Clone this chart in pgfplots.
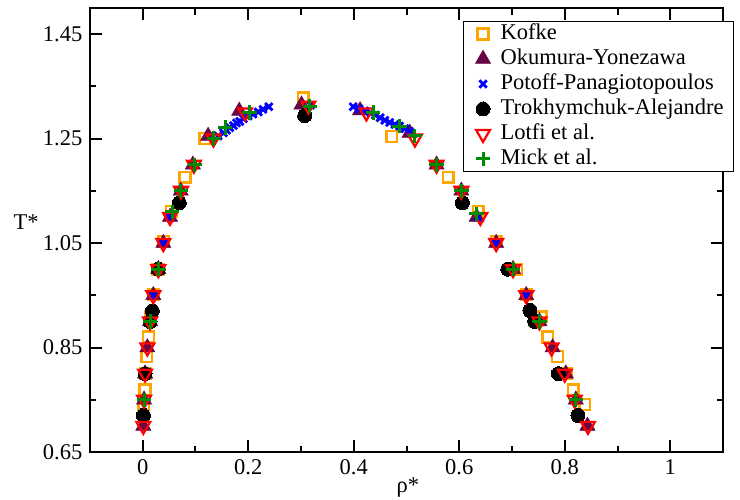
\documentclass[border=0pt]{standalone}
\usepackage{fontspec}
\setmainfont{Liberation Serif}
\usepackage{pgfplots}
\pgfplotsset{compat=1.18}
\definecolor{gorange}{RGB}{255,165,0}
\definecolor{gmaroon}{RGB}{103,7,72}
\definecolor{gblue}{RGB}{0,0,255}
\definecolor{gred}{RGB}{255,0,0}
\definecolor{ggreen}{RGB}{0,139,0}
\begin{document}
\fontsize{22.5}{27}\selectfont
\begin{tikzpicture}
\begin{axis}[
  scale only axis, width=633pt, height=444pt,
  xmin=-0.1, xmax=1.1, ymin=0.65, ymax=1.5,
  axis line style={line width=2.2pt},
  every tick/.style={black, line width=2pt},
  major tick length=12pt, minor tick length=6.5pt,
  tick align=inside,
  xtick={0,0.2,0.4,0.6,0.8,1}, minor xtick={0.1,0.3,0.5,0.7,0.9},
  ytick={0.65,0.85,1.05,1.25,1.45}, minor ytick={0.75,0.95,1.15,1.35},
  /pgf/number format/assume math mode=true,
  xlabel={ρ*}, ylabel={T*},
  every axis x label/.style={at={(axis description cs:0.502,-0.081)},anchor=center},
  every axis y label/.style={at={(axis description cs:-0.101,0.518)},anchor=center},
  legend cell align=left,
  legend style={at={(axis description cs:0.589,0.971)}, anchor=north west,
    draw=black, line width=1.2pt, fill=white, inner xsep=6pt, inner ysep=0pt,
    row sep=0pt, nodes={inner ysep=2pt, inner xsep=4pt, text height=16pt, text depth=5pt}},
  legend image code/.code={\path (0pt,0pt) (26pt,0pt); \draw[#1] plot coordinates {(13pt,0pt)};},
  clip=false,
]
\addplot[only marks, color=gorange, mark=square, mark size=5.4pt, mark options={solid, line width=2.4pt, line join=miter, fill=none}] coordinates {
(0.002,0.741)(0.0044,0.769)(0.0056,0.800)(0.0076,0.833)(0.0106,0.870)(0.0145,0.909)(0.020,0.952)(0.029,1.000)(0.040,1.053)(0.054,1.111)(0.080,1.176)(0.118,1.250)(0.304,1.328)(0.472,1.254)(0.579,1.176)(0.636,1.111)(0.670,1.053)(0.709,1.000)(0.727,0.952)(0.755,0.909)(0.768,0.870)(0.786,0.833)(0.803,0.800)(0.816,0.769)(0.838,0.741)};
\addlegendentry{Kofke}
\addplot[only marks, color=gmaroon, mark=triangle*, mark size=8.8pt, mark options={solid, line width=0.5pt, fill=gmaroon}] coordinates {
(0.0011,0.70)(0.0025,0.75)(0.0044,0.80)(0.0087,0.85)(0.0138,0.90)(0.020,0.95)(0.0295,1.00)(0.039,1.05)(0.0517,1.10)(0.072,1.15)(0.095,1.20)(0.124,1.255)(0.183,1.303)(0.301,1.315)(0.412,1.304)(0.506,1.261)(0.557,1.20)(0.604,1.15)(0.633,1.10)(0.670,1.05)(0.702,1.00)(0.727,0.95)(0.752,0.90)(0.777,0.85)(0.802,0.80)(0.821,0.75)(0.843,0.70)};
\addlegendentry{Okumura-Yonezawa}
\addplot[only marks, color=gblue, mark=x, mark size=5.2pt, mark options={solid, line width=2.8pt}] coordinates {
(0.020,0.95)(0.039,1.05)(0.052,1.10)(0.727,0.95)(0.670,1.05)(0.635,1.10)
(0.143,1.255)(0.153,1.261)(0.159,1.266)(0.165,1.271)(0.172,1.275)(0.178,1.280)(0.184,1.283)(0.191,1.288)(0.200,1.293)(0.209,1.297)(0.219,1.301)(0.228,1.306)(0.239,1.311)
(0.318,1.314)
(0.399,1.311)(0.410,1.307)(0.421,1.303)(0.432,1.299)(0.441,1.295)(0.450,1.290)(0.459,1.285)(0.468,1.281)(0.478,1.277)(0.487,1.274)(0.497,1.269)(0.506,1.264)};
\addlegendentry{Potoff-Panagiotopoulos}
\addplot[only marks, color=black, mark=*, mark size=7pt, mark options={solid, line width=0pt}] coordinates {
(0.0011,0.72)(0.0044,0.80)(0.0138,0.90)(0.0182,0.92)(0.0295,1.00)(0.0693,1.127)(0.307,1.294)(0.606,1.127)(0.692,1.00)(0.734,0.921)(0.743,0.90)(0.788,0.80)(0.825,0.72)};
\addlegendentry{Trokhymchuk-Alejandre}
\addplot[only marks, color=gred, mark=triangle, mark size=8pt, mark options={solid, rotate=180, line width=2.2pt, line join=miter, fill=none}] coordinates {
(0.0011,0.70)(0.0025,0.75)(0.0044,0.80)(0.0087,0.85)(0.0138,0.90)(0.020,0.95)(0.0295,1.00)(0.039,1.05)(0.0517,1.10)(0.0725,1.15)(0.097,1.20)(0.134,1.25)(0.194,1.30)(0.314,1.313)(0.424,1.30)(0.516,1.25)(0.557,1.20)(0.604,1.15)(0.640,1.10)(0.670,1.05)(0.702,1.00)(0.727,0.95)(0.752,0.90)(0.775,0.85)(0.800,0.80)(0.819,0.75)(0.844,0.70)};
\addlegendentry{Lotfi et al.}
\addplot[only marks, color=ggreen, mark=+, mark size=7.2pt, mark options={solid, line width=3pt}] coordinates {
(0.0025,0.75)(0.0138,0.90)(0.0295,1.00)(0.056,1.11)(0.0725,1.15)(0.099,1.20)(0.135,1.25)(0.156,1.271)(0.202,1.30)(0.317,1.312)(0.437,1.30)(0.487,1.274)(0.516,1.255)(0.557,1.20)(0.604,1.15)(0.633,1.106)(0.702,1.00)(0.752,0.90)(0.821,0.75)};
\addlegendentry{Mick et al.}
\end{axis}
\pgfresetboundingbox
\path (-90pt,-47pt) rectangle (650pt,452pt);
\end{tikzpicture}
\end{document}
